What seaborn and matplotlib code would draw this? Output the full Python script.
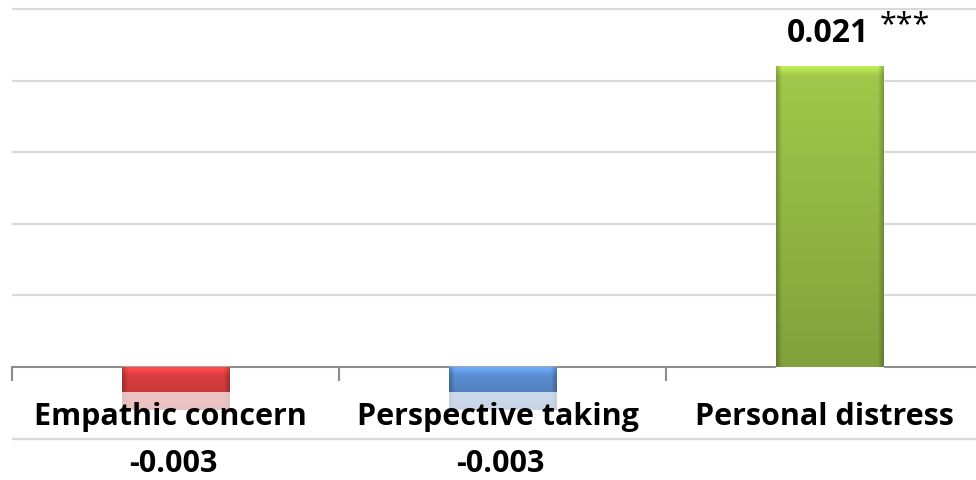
import numpy as np
import pandas as pd
import seaborn as sns
import matplotlib
matplotlib.use("Agg")
import matplotlib.pyplot as plt
import matplotlib.colors as mcolors

categories = ["Empathic concern", "Perspective taking", "Personal distress"]
values = [-0.003, -0.003, 0.021]
value_labels = ["-0.003", "-0.003", "0.021"]
significance = ["", "", "***"]
colors = ["#cf3a3c", "#5586c6", "#93b744"]
grid_values = [-0.005, 0.005, 0.010, 0.015, 0.020, 0.025]

sns.set_theme(style="white")
plt.rcParams["font.family"] = ["Open Sans", "DejaVu Sans"]

df = pd.DataFrame({"category": categories, "value": values})

fig = plt.figure(figsize=(9.76, 4.81), dpi=100)
ax = fig.add_axes([12 / 976, 0, 981 / 976, 1])

sns.barplot(data=df, x="category", y="value", hue="category", palette=colors,
            width=0.33, legend=False, ax=ax, saturation=1, zorder=3)

ax.set_xlim(-0.5, 2.5)
ax.set_ylim(-0.00789, 0.0257)

# gridlines
ax.set_yticks(grid_values)
ax.yaxis.grid(True, color="#d9d9d9", linewidth=1.6, zorder=0)
ax.set_yticklabels([])
ax.tick_params(axis="y", length=0)
for s in ["top", "left", "right"]:
    ax.spines[s].set_visible(False)
ax.spines["bottom"].set_position(("data", 0))
ax.spines["bottom"].set_color("#8c8c8c")
ax.spines["bottom"].set_linewidth(1.5)
ax.spines["bottom"].set_zorder(2)
ax.set_xticks([0, 1, 2])
ax.set_xticklabels([])
ax.tick_params(axis="x", which="major", length=0)
ax.set_xticks([-0.5, 0.5, 1.5, 2.5], minor=True)
ax.tick_params(axis="x", which="minor", bottom=True, length=10, width=1.5,
               color="#8c8c8c", direction="out")
ax.set_xlabel("")
ax.set_ylabel("")

# gradient shading on bars
for patch, col in zip(ax.patches, colors):
    x0, y0 = patch.get_x(), patch.get_y()
    w, h = patch.get_width(), patch.get_height()
    ymin, ymax = sorted([y0, y0 + h])
    rgb = np.array(mcolors.to_rgb(col))
    ny, nx = 120, 60
    yy = np.linspace(1, 0, ny)[:, None]
    xx = np.linspace(0, 1, nx)[None, :]
    f = 0.88 + 0.22 * yy
    edge = 1 - 0.22 * np.clip(1 - np.minimum(xx, 1 - xx) / 0.05, 0, 1)
    topb = 1 + 0.18 * np.clip(1 - (1 - yy) * (ymax - ymin) / 0.0006, 0, 1)
    img = np.clip(rgb[None, None, :] * (f * edge * topb)[:, :, None], 0, 1)
    im = ax.imshow(img, extent=[x0, x0 + w, ymin, ymax], origin="upper",
                   aspect="auto", zorder=3.5, interpolation="bilinear")
    im.set_clip_path(patch)

ax.set_xlim(-0.5, 2.5)
ax.set_ylim(-0.00789, 0.0257)

# category labels with translucent white box
for i, cat in enumerate(categories):
    ax.annotate(cat, xy=(i, 0), xytext=(-5, -49), textcoords="offset pixels",
                ha="center", va="center", fontsize=22, fontweight="bold", color="black",
                zorder=6,
                bbox=dict(boxstyle="square,pad=0.28", facecolor="white", edgecolor="none", alpha=0.7))

# lowest gridline stays visible above the label boxes
ax.axhline(grid_values[0], color="#d9d9d9", linewidth=1.6, zorder=7)

# value labels
for i, (v, lab, sig) in enumerate(zip(values, value_labels, significance)):
    if v < 0:
        ax.annotate(lab, xy=(i, 0), xytext=(-2, -96), textcoords="offset pixels",
                    ha="center", va="center", fontsize=22, fontweight="bold", color="black", zorder=8)
    else:
        ax.annotate(lab, xy=(i, v), xytext=(-2, 34), textcoords="offset pixels",
                    ha="center", va="center", fontsize=23, fontweight="bold", color="black", zorder=8)
    if sig:
        ax.annotate(sig, xy=(i, v), xytext=(75, 42), textcoords="offset pixels",
                    ha="center", va="center", fontsize=22, color="black", zorder=8)

fig.savefig("out.png", dpi=100)
